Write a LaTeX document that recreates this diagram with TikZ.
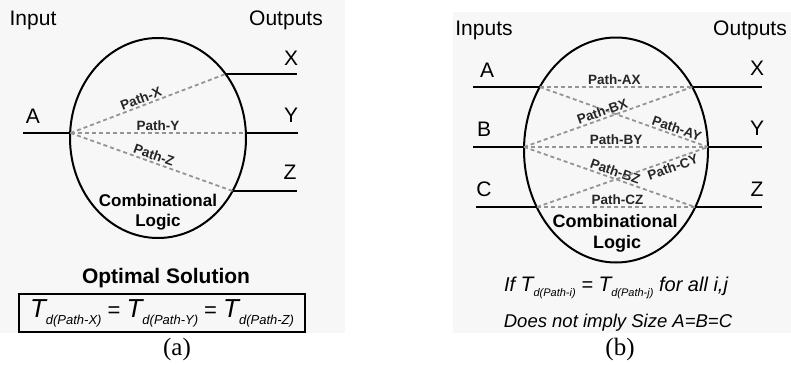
\documentclass[tikz,border=0pt]{standalone}
\usepackage{fontspec}
\setmainfont{Liberation Sans}
\newfontfamily\capfont{Liberation Serif}
\usetikzlibrary{shapes.geometric}
\newcommand\tdbig[1]{{\fontsize{26}{26}\selectfont\itshape T}\raisebox{-7pt}{\fontsize{13}{13}\selectfont\itshape #1}}
\newcommand\tdsmall[1]{{\fontsize{21}{21}\selectfont\itshape T}\raisebox{-5pt}{\fontsize{11}{11}\selectfont\itshape #1}}
\begin{document}
\begin{tikzpicture}[x=1pt,y=-1pt,
  wire/.style={line width=2pt},
  dline/.style={draw=black!42, line width=1.8pt, dash pattern=on 4pt off 3pt},
  plab/.style={font=\fontsize{13.5}{13.5}\selectfont\bfseries, sloped, inner sep=1.5pt, text=black!85},
  io/.style={font=\fontsize{21}{21}\selectfont, anchor=base},
  blob/.style={draw, ellipse, line width=2pt, inner sep=0pt},
  cl/.style={font=\fontsize{17}{17}\selectfont\bfseries, anchor=base},
  figcap/.style={font=\fontsize{25}{25}\selectfont\capfont, anchor=base}
]
\useasboundingbox (0,0) rectangle (791,364);
\fill[black!3] (0,0) rectangle (345,333);
\fill[black!3] (453,12) rectangle (791,333);

% ---------- panel (a) ----------
\node[blob, minimum width=176pt, minimum height=200pt] (ea) at (158,138) {};
\coordinate (aA0) at (23,133);
\coordinate (aA) at (70.5,133);
\coordinate (aX) at (225.6,74);
\coordinate (aX1) at (297,74);
\coordinate (aY) at (245.5,133);
\coordinate (aY1) at (298,133);
\coordinate (aZ) at (232.6,191);
\coordinate (aZ1) at (297,191);
\draw[wire] (aA0) -- (aA);
\draw[wire] (aX) -- (aX1);
\draw[wire] (aY) -- (aY1);
\draw[wire] (aZ) -- (aZ1);
\draw[dline] (aA) -- node[plab, above, pos=0.47] {Path-X} (aX);
\draw[dline] (aA) -- node[plab, above, pos=0.5] {Path-Y} (aY);
\draw[dline] (aA) -- node[plab, above, pos=0.5] {Path-Z} (aZ);
\node[io] (tin) at (33,25) {Input};
\node[io] (tout) at (286,25) {Outputs};
\node[io] (la) at (33,123) {A};
\node[io] (lx) at (291,65) {X};
\node[io] (ly) at (291,122) {Y};
\node[io] (lz) at (290,179) {Z};
\node[cl] (ca1) at (158,206) {Combinational};
\node[cl] (ca2) at (158,226) {Logic};
\node[font=\fontsize{21}{21}\selectfont\bfseries, anchor=base] (opt) at (166,283) {Optimal Solution};
\node[draw, line width=2pt, minimum width=286pt, minimum height=38pt, inner sep=0pt,
      font=\fontsize{22}{22}\selectfont] (box) at (162,313)
  {\tdbig{d(Path-X)} = \tdbig{d(Path-Y)} = \tdbig{d(Path-Z)}};
\node[figcap] (capa) at (177,355) {(a)};

% ---------- panel (b) ----------
\node[blob, minimum width=184pt, minimum height=225pt] (eb) at (616,150) {};
\coordinate (bA0) at (473,87);
\coordinate (bA) at (539.8,87);
\coordinate (bB0) at (473,147);
\coordinate (bB) at (524,147);
\coordinate (bC0) at (476,207);
\coordinate (bC) at (537,207);
\coordinate (bX) at (692.2,87);
\coordinate (bX1) at (762,87);
\coordinate (bY) at (708,147);
\coordinate (bY1) at (762,147);
\coordinate (bZ) at (695,207);
\coordinate (bZ1) at (762,207);
\draw[wire] (bA0) -- (bA);
\draw[wire] (bB0) -- (bB);
\draw[wire] (bC0) -- (bC);
\draw[wire] (bX) -- (bX1);
\draw[wire] (bY) -- (bY1);
\draw[wire] (bZ) -- (bZ1);
\draw[dline] (bA) -- node[plab, above, pos=0.49] {Path-AX} (bX);
\draw[dline] (bA) -- node[plab, above, pos=0.8] {Path-AY} (bY);
\draw[dline] (bB) -- node[plab, above, pos=0.48] {Path-BX} (bX);
\draw[dline] (bB) -- node[plab, above, pos=0.5] {Path-BY} (bY);
\draw[dline] (bB) -- node[plab, above, pos=0.52] {Path-BZ} (bZ);
\draw[dline] (bC) -- node[plab, below, pos=0.78] {Path-CY} (bY);
\draw[dline] (bC) -- node[plab, above, pos=0.51] {Path-CZ} (bZ);
\node[io] (tinb) at (484,35) {Inputs};
\node[io] (toutb) at (750,35) {Outputs};
\node[io] (lba) at (487,77) {A};
\node[io] (lbb) at (484,136) {B};
\node[io] (lbc) at (484,196) {C};
\node[io] (lbx) at (757,75) {X};
\node[io] (lby) at (757,135) {Y};
\node[io] (lbz) at (757,196) {Z};
\node[cl, font=\fontsize{18}{18}\selectfont\bfseries] (cb1) at (615,227) {Combinational};
\node[cl, font=\fontsize{18}{18}\selectfont\bfseries] (cb2) at (617,248) {Logic};
\node[anchor=base, font=\fontsize{20}{20}\selectfont\itshape] (ifl) at (616,291)
  {If \tdsmall{d(Path-i)} = \tdsmall{d(Path-j)} for all i,j};
\node[anchor=base, font=\fontsize{18.5}{18.5}\selectfont\itshape] (dnl) at (618,327) {Does not imply Size A=B=C};
\node[figcap] (capb) at (620,355) {(b)};
\end{tikzpicture}
\end{document}
